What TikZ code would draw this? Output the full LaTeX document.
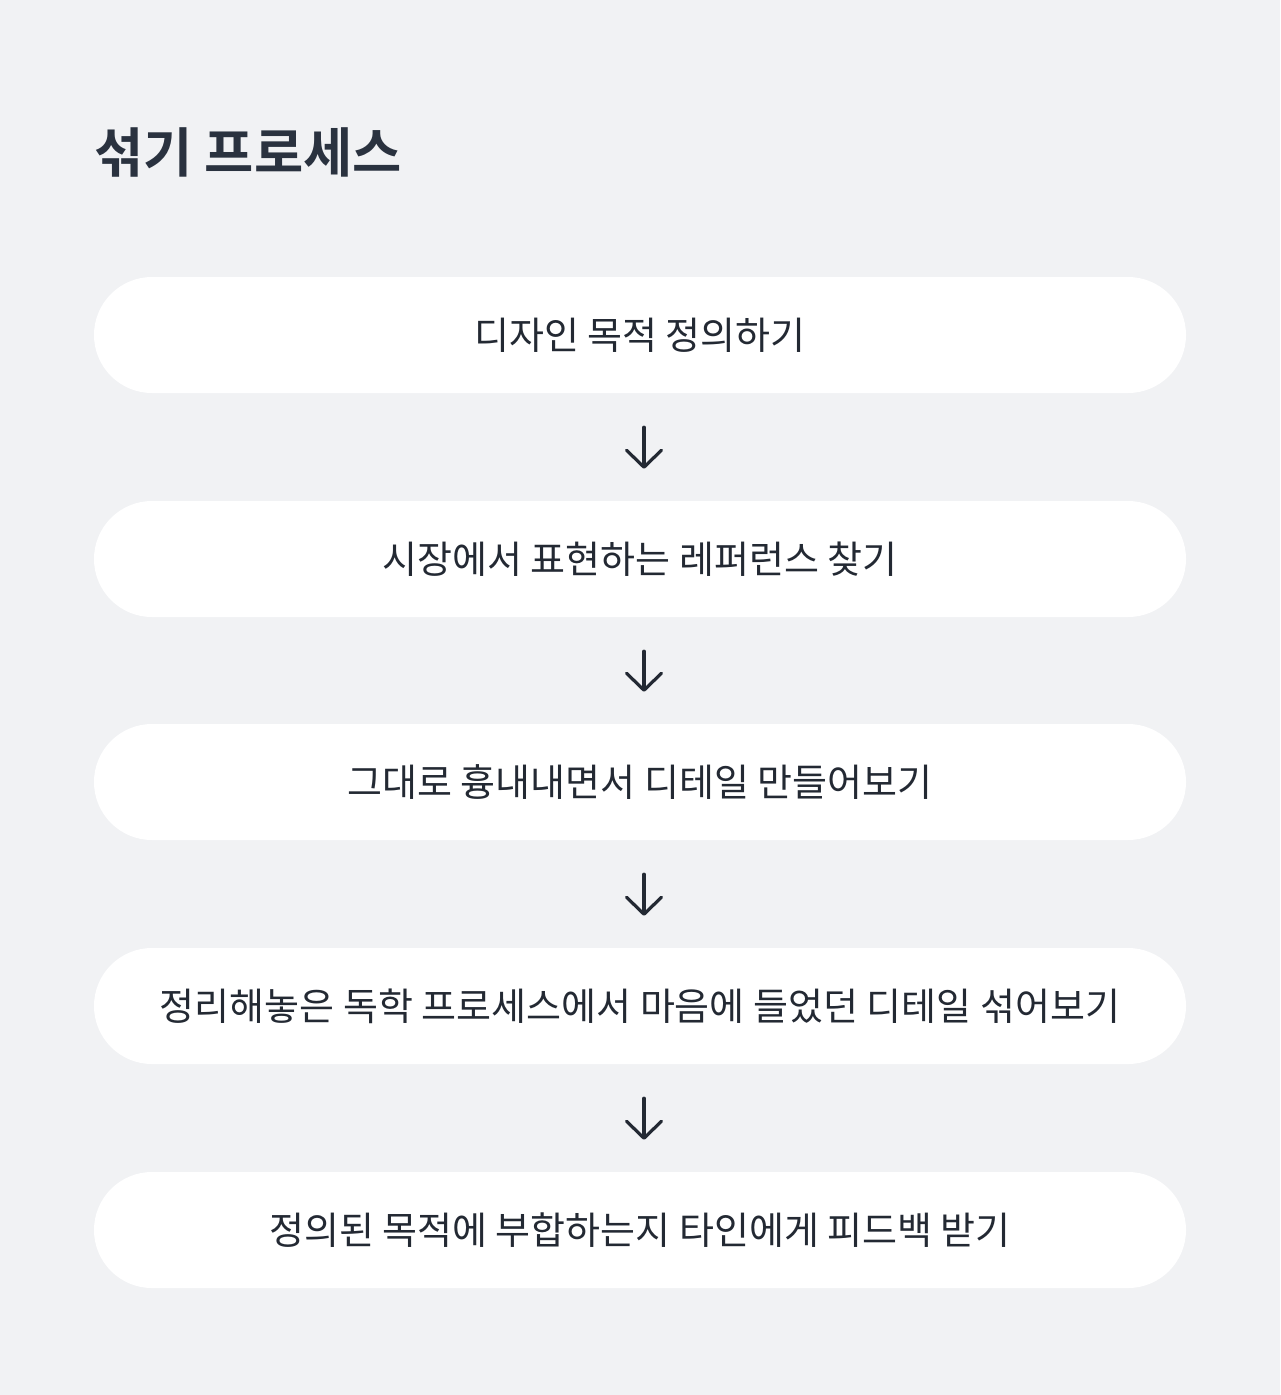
\documentclass[tikz,border=0pt]{standalone}
\usepackage{fontspec}
\newfontfamily\kr{Noto Sans CJK KR}
\newfontfamily\krb{Noto Sans CJK KR Bold}
\usetikzlibrary{arrows.meta}
\definecolor{bg}{HTML}{F1F2F4}
\definecolor{ink}{HTML}{232933}
\definecolor{titleink}{HTML}{2A323F}
\tikzset{
  stepbox/.style={fill=white, draw=none, rounded corners=58pt, minimum width=1092pt, minimum height=116pt, inner sep=0pt, text=ink, font=\kr\fontsize{38}{44}\selectfont},
  flow/.style={draw=ink, line width=3.2pt, line cap=round, shorten <=34pt, shorten >=32pt, -{Straight Barb[length=17pt,width=35pt,round]}}
}
\begin{document}
\begin{tikzpicture}[x=1pt,y=-1pt]
\fill[bg] (0,0) rectangle (1280,1395);
\useasboundingbox (0,0) rectangle (1280,1395);
\node[anchor=base west, inner sep=0pt, text=titleink, font=\krb\fontsize{53.5}{60}\selectfont] (title) at (94,172) {섞기 프로세스};
\node[stepbox] (b1) at (640,335) {디자인 목적 정의하기};
\node[stepbox] (b2) at (640,559) {시장에서 표현하는 레퍼런스 찾기};
\node[stepbox] (b3) at (640,782) {그대로 흉내내면서 디테일 만들어보기};
\node[stepbox] (b4) at (640,1006) {정리해놓은 독학 프로세스에서 마음에 들었던 디테일 섞어보기};
\node[stepbox] (b5) at (640,1230) {정의된 목적에 부합하는지 타인에게 피드백 받기};
\foreach \a/\b in {b1/b2,b2/b3,b3/b4,b4/b5}
  \draw[flow] ([xshift=4pt]\a.south) -- ([xshift=4pt]\b.north);
\end{tikzpicture}
\end{document}
